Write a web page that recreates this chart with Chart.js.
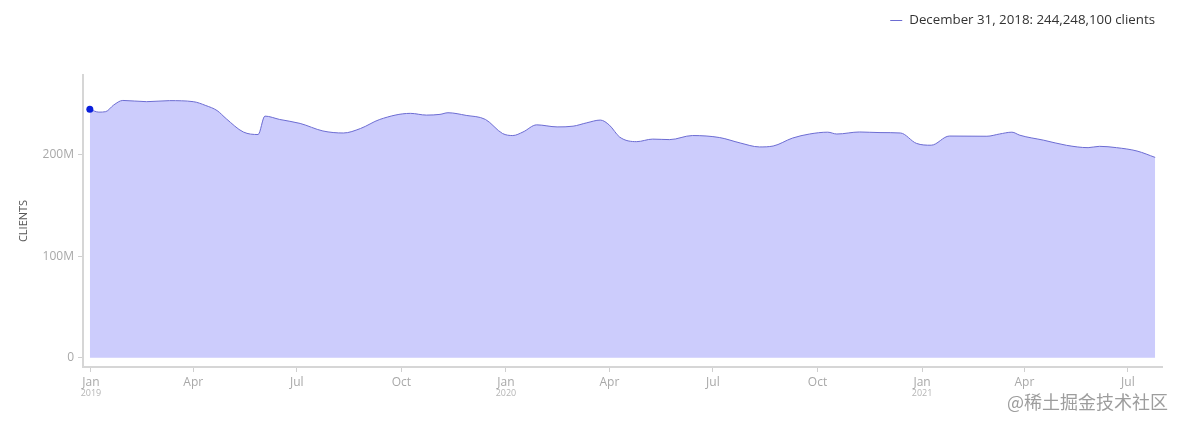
<!DOCTYPE html>
<html>
<head>
<meta charset="utf-8">
<script src="https://cdn.jsdelivr.net/npm/chart.js@4"></script>
<style>
  html, body { margin: 0; padding: 0; background: #fff; }
  #wrap { width: 1184px; height: 427px; position: relative; }
</style>
</head>
<body>
<div id="wrap"><canvas id="clientsChart"></canvas></div>
<script>
// daily clients (millions)
const dates = [
  "2018-12-31", "2019-01-08", "2019-01-14", "2019-01-21", "2019-01-29", "2019-02-19",
  "2019-03-11", "2019-04-01", "2019-04-12", "2019-04-22", "2019-04-30", "2019-05-15",
  "2019-05-28", "2019-06-03", "2019-06-16", "2019-07-04", "2019-07-24", "2019-08-11",
  "2019-08-26", "2019-09-12", "2019-10-09", "2019-10-23", "2019-11-04", "2019-11-11",
  "2019-11-27", "2019-12-14", "2019-12-29", "2020-01-07", "2020-01-16", "2020-01-28",
  "2020-02-15", "2020-02-29", "2020-03-12", "2020-03-24", "2020-04-01", "2020-04-10",
  "2020-04-25", "2020-05-09", "2020-05-24", "2020-06-13", "2020-07-07", "2020-07-25",
  "2020-08-11", "2020-08-23", "2020-09-09", "2020-09-24", "2020-10-10", "2020-10-18",
  "2020-11-07", "2020-11-25", "2020-12-13", "2020-12-27", "2021-01-09", "2021-01-25",
  "2021-02-27", "2021-03-10", "2021-03-21", "2021-03-28", "2021-04-18", "2021-05-08",
  "2021-05-27", "2021-06-06", "2021-06-21", "2021-07-09", "2021-07-25"
];
const clientsMillions = [
  244.25, 241.5, 242.0, 248.5, 253.0, 251.8,
  252.8, 251.8, 248.0, 243.0, 235.0, 222.0,
  219.5, 237.6, 234.3, 230.4, 223.0, 221.0,
  225.4, 234.3, 240.3, 238.6, 239.3, 240.9,
  238.3, 234.3, 220.5, 218.5, 222.0, 229.0,
  227.0, 227.7, 231.0, 233.7, 228.7, 217.0,
  212.5, 215.0, 214.5, 218.5, 216.5, 211.2,
  207.3, 208.2, 216.0, 220.0, 221.8, 220.0,
  222.0, 221.4, 221.0, 210.8, 209.0, 218.0,
  217.8, 220.0, 221.8, 218.8, 213.9, 208.9,
  206.6, 207.9, 206.6, 203.3, 197.0
];

const tickDates = ["2019-01-01", "2019-04-01", "2019-07-01", "2019-10-01", "2020-01-01", "2020-04-01",
                   "2020-07-01", "2020-10-01", "2021-01-01", "2021-04-01", "2021-07-01"];
const tickMonths = ["Jan", "Apr", "Jul", "Oct", "Jan", "Apr", "Jul", "Oct", "Jan", "Apr", "Jul"];
const tickYears = ["2019", "", "", "", "2020", "", "", "", "2021", "", ""];
const yTicks = [0, 100e6, 200e6];
const legendText = "December 31, 2018: 244,248,100 clients";

const DAY = 86400000;
const origin = Date.UTC(2019, 0, 1);
function toDay(s) {
  const p = s.split("-").map(Number);
  return (Date.UTC(p[0], p[1] - 1, p[2]) - origin) / DAY;
}

const points = dates.map((d, i) => ({ x: toDay(d), y: clientsMillions[i] * 1e6 }));
const tickDays = tickDates.map(toDay);

const lineColor = "#6c6cd2";

// year under the month label + legend + watermark
const extras = {
  id: "extras",
  afterDraw(chart) {
    const ctx = chart.ctx;
    const xs = chart.scales.x;
    ctx.save();
    ctx.font = "9px 'Open Sans'";
    ctx.fillStyle = "#b5b5b5";
    ctx.textAlign = "center";
    ctx.textBaseline = "middle";
    tickDays.forEach((d, i) => {
      if (tickYears[i]) ctx.fillText(tickYears[i], xs.getPixelForValue(d), 393);
    });

    ctx.font = "13.3px 'Open Sans'";
    ctx.fillStyle = "#333";
    ctx.textAlign = "right";
    ctx.fillText(legendText, 1155, 20);
    const w = ctx.measureText(legendText).width;
    ctx.strokeStyle = lineColor;
    ctx.lineWidth = 1;
    ctx.beginPath();
    ctx.moveTo(1155 - w - 19, 20.5);
    ctx.lineTo(1155 - w - 7, 20.5);
    ctx.stroke();

    ctx.font = "18px 'Noto Sans CJK SC'";
    ctx.fillStyle = "rgba(140,140,140,0.85)";
    ctx.fillText("@稀土掘金技术社区", 1168, 402);
    ctx.restore();
  }
};

const ctx = document.getElementById("clientsChart").getContext("2d");
new Chart(ctx, {
  type: "line",
  data: {
    datasets: [{
      label: "Clients",
      data: points,
      borderColor: lineColor,
      borderWidth: 1,
      backgroundColor: "#ccccfc",
      fill: "origin",
      cubicInterpolationMode: "monotone",
      pointRadius: c => c.dataIndex === 0 ? 3.5 : 0,
      pointBackgroundColor: "#0a1fdc",
      pointBorderWidth: 0
    }]
  },
  options: {
    responsive: true,
    maintainAspectRatio: false,
    animation: false,
    layout: { padding: { top: 75, right: 22, left: 0, bottom: 0 } },
    plugins: {
      legend: { display: false },
      tooltip: { enabled: false }
    },
    scales: {
      x: {
        type: "linear",
        min: -7,
        max: 942,
        afterBuildTicks: s => { s.ticks = tickDays.map(v => ({ value: v })); },
        afterFit: s => { s.height = 60; },
        ticks: {
          autoSkip: false,
          maxRotation: 0,
          padding: 3,
          color: "#a8a8a8",
          font: { family: "'Open Sans'", size: 12 },
          callback: (v, i) => tickMonths[i]
        },
        grid: { drawOnChartArea: false, drawTicks: true, tickLength: 5, color: "#cfcfcf" },
        border: { color: "#d6d6d6", width: 2 }
      },
      y: {
        min: -9e6,
        max: 278e6,
        afterBuildTicks: s => { s.ticks = yTicks.map(v => ({ value: v })); },
        afterFit: s => { s.width = 83; },
        ticks: {
          padding: 4,
          color: "#a8a8a8",
          font: { family: "'Open Sans'", size: 12 },
          callback: v => v === 0 ? "0" : (v / 1e6) + "M"
        },
        grid: { drawOnChartArea: false, drawTicks: true, tickLength: 5, color: "#cfcfcf" },
        border: { color: "#d6d6d6", width: 2 },
        title: {
          display: true,
          text: "CLIENTS",
          color: "#555",
          font: { family: "'Open Sans'", size: 11 },
          padding: { top: 17, bottom: 0 }
        }
      }
    }
  },
  plugins: [extras]
});
</script>
</body>
</html>
